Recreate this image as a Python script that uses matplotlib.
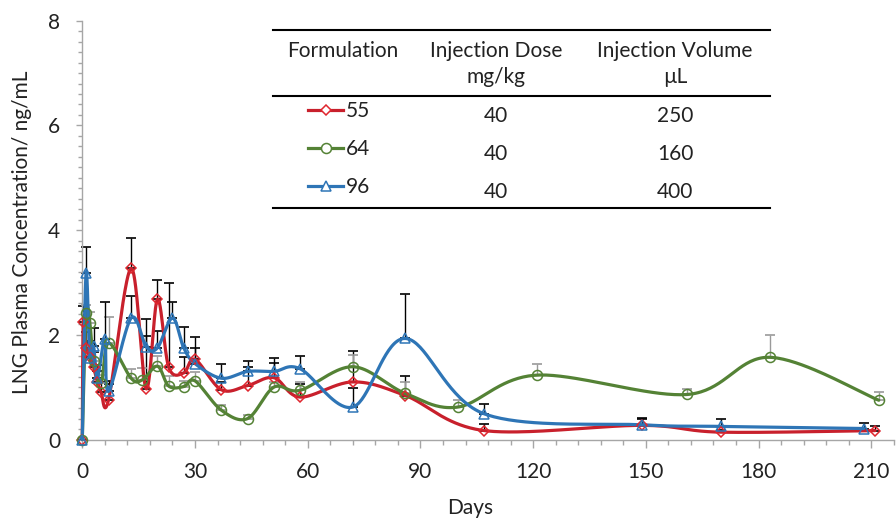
import numpy as np
import matplotlib.pyplot as plt
from matplotlib.lines import Line2D
from matplotlib.ticker import MultipleLocator

# formulation 55 (red diamonds)
days_55 = [0, 0.25, 1, 2, 3, 4, 5, 7, 13, 17, 20, 23, 27, 30, 37, 44, 51, 58, 72, 86, 107, 149, 170, 211]
conc_55 = [0, 2.25, 1.75, 1.58, 1.38, 1.1, 0.9, 0.76, 3.27, 0.97, 2.68, 1.38, 1.27, 1.53,
           0.95, 1.03, 1.18, 0.81, 1.1, 0.84, 0.17, 0.27, 0.14, 0.17]
err_55 = [0, 0.3, 0.3, 0.3, 0.3, 0.2, 0.2, 0.3, 0.57, 1.33, 0.37, 1.6, 0.3, 0.43,
          0.15, 0.35, 0.28, 0.25, 0.59, 0.38, 0.12, 0.12, 0.05, 0.09]

# formulation 64 (green circles)
days_64 = [0, 1, 2, 3, 5, 7, 13, 16, 20, 23, 27, 30, 37, 44, 51, 58, 72, 86, 100, 121, 161, 183, 212]
conc_64 = [0, 2.42, 2.23, 1.5, 1.08, 1.84, 1.17, 1.14, 1.4, 1.02, 1.01, 1.12, 0.56, 0.4,
           1.0, 0.94, 1.39, 0.88, 0.62, 1.23, 0.86, 1.57, 0.75]
err_64 = [0, 0.15, 0.2, 0.2, 0.15, 0.5, 0.18, 0.23, 0.2, 0.19, 0.1, 0.16, 0.1, 0.06,
          0.1, 0.16, 0.22, 0.22, 0.13, 0.22, 0.1, 0.43, 0.15]

# formulation 96 (blue triangles)
days_96 = [0, 1, 2, 3, 4, 6, 7, 13, 17, 20, 24, 27, 30, 37, 44, 51, 58, 72, 86, 107, 149, 170, 208]
conc_96 = [0, 3.18, 1.55, 1.78, 1.18, 1.92, 0.92, 2.32, 1.77, 1.75, 2.32, 1.75, 1.45, 1.17,
           1.3, 1.3, 1.35, 0.62, 1.93, 0.49, 0.28, 0.25, 0.21]
err_96 = [0, 0.5, 0.3, 0.35, 0.25, 0.7, 0.2, 0.42, 0.2, 0.32, 0.3, 0.39, 0.3, 0.27,
          0.19, 0.25, 0.24, 0.36, 0.85, 0.18, 0.14, 0.14, 0.11]

# table contents
headers = [["Formulation"], ["Injection Dose", "mg/kg"], ["Injection Volume", "µL"]]
formulations = ["55", "64", "96"]
doses = ["40", "40", "40"]
volumes = ["250", "160", "400"]

red, green, blue = '#c8202c', '#548235', '#2e75b6'
red_m = '#e0262e'
txt = '#222222'
axc = '#a6a6a6'
fs = 15

plt.rcParams['font.family'] = ['Lato', 'DejaVu Sans']

W, H = 896, 521
fig = plt.figure(figsize=(W / 100, H / 100), dpi=100)
ax = fig.add_axes([82.3 / W, 1 - 439.5 / H, (893.8 - 82.3) / W, (439.5 - 20.7) / H])
ax.set_xlim(0, 216)
ax.set_ylim(0, 8)


def smooth(x, y, n=40):
    # excel-like smoothed line: bezier through points, computed in screen space
    pts = ax.transData.transform(np.column_stack([x, y]))
    p = np.vstack([pts[0], pts, pts[-1]])
    t = np.linspace(0, 1, n)[:, None]
    segs = []
    for i in range(1, len(p) - 2):
        p0, p1, p2, p3 = p[i - 1], p[i], p[i + 1], p[i + 2]
        c1 = p1 + (p2 - p0) / 6
        c2 = p2 - (p3 - p1) / 6
        segs.append((1 - t) ** 3 * p1 + 3 * (1 - t) ** 2 * t * c1 + 3 * (1 - t) * t ** 2 * c2 + t ** 3 * p2)
    return ax.transData.inverted().transform(np.vstack(segs))


series = [
    (days_55, conc_55, err_55, red, red_m, 'D', 5.6, 'black'),
    (days_64, conc_64, err_64, green, green, 'o', 7.2, '#9a9a9a'),
    (days_96, conc_96, err_96, blue, blue, '^', 7.5, 'black'),
]

for d, c, e, col, mcol, mk, ms, ecol in series:
    ax.errorbar(d, c, yerr=[np.zeros(len(e)), e], fmt='none', ecolor=ecol, elinewidth=1,
                capsize=3.5, capthick=1.2, zorder=1, clip_on=False)

for d, c, e, col, mcol, mk, ms, ecol in series:
    curve = smooth(d, c)
    ax.plot(curve[:, 0], curve[:, 1], color=col, lw=2.3, zorder=3, clip_on=False,
            solid_capstyle='round')

for d, c, e, col, mcol, mk, ms, ecol in series:
    ax.plot(d, c, linestyle='none', marker=mk, ms=ms, mfc='none', mec=mcol, mew=1.1,
            zorder=4, clip_on=False)

for side in ['top', 'right']:
    ax.spines[side].set_visible(False)
for side in ['left', 'bottom']:
    ax.spines[side].set_color(axc)
    ax.spines[side].set_linewidth(1.0)

ax.xaxis.set_major_locator(MultipleLocator(30))
ax.xaxis.set_minor_locator(MultipleLocator(6))
ax.yaxis.set_major_locator(MultipleLocator(2))
ax.yaxis.set_minor_locator(MultipleLocator(0.2))
ax.tick_params(axis='x', which='major', direction='out', length=5.5, width=1, color=axc,
               labelsize=fs, labelcolor=txt, pad=11)
ax.tick_params(axis='x', which='minor', direction='out', length=3.5, width=1, color=axc)
ax.tick_params(axis='y', which='major', direction='out', length=4, width=1, color=axc,
               labelsize=fs, labelcolor=txt, pad=12)
ax.tick_params(axis='y', which='minor', direction='out', length=3, width=1, color=axc)

fig.text(22 / W, 1 - 232 / H, "LNG Plasma Concentration/ ng/mL", rotation=90,
         ha='center', va='center', fontsize=fs, color=txt)
fig.text(470 / W, 1 - 508 / H, "Days", ha='center', va='center', fontsize=fs, color=txt)


# table drawn in figure pixel coordinates
def fx(px):
    return px / W


def fy(py):
    return 1 - py / H


for yy in [30, 96, 208]:
    fig.add_artist(Line2D([fx(273), fx(770)], [fy(yy), fy(yy)], color='black', lw=1.5))

col_x = [343, 496, 675]
for cx, lines in zip(col_x, headers):
    for k, s in enumerate(lines):
        fig.text(fx(cx), fy(56.7 + 26.6 * k), s, ha='center', va='baseline', fontsize=fs, color=txt)

row_base = [117.3, 155, 193.3]
row_mid = [109.5, 148.3, 186]
colors = [(red, red_m, 'D', 5.6), (green, green, 'o', 7.2), (blue, blue, '^', 7.5)]
for i in range(3):
    col, mcol, mk, ms = colors[i]
    fig.add_artist(Line2D([fx(308), fx(343)], [fy(row_mid[i])] * 2, color=col, lw=2.3))
    fig.add_artist(Line2D([fx(325.8)], [fy(row_mid[i])], linestyle='none', marker=mk, ms=ms,
                          mfc='white', mec=mcol, mew=1.1))
    fig.text(fx(346), fy(row_base[i]), formulations[i], ha='left', va='baseline', fontsize=fs, color=txt)
    fig.text(fx(496), fy(row_base[i] + 4.5), doses[i], ha='center', va='baseline', fontsize=fs, color=txt)
    fig.text(fx(675), fy(row_base[i] + 4.5), volumes[i], ha='center', va='baseline', fontsize=fs, color=txt)

fig.savefig('out.png', dpi=100)
